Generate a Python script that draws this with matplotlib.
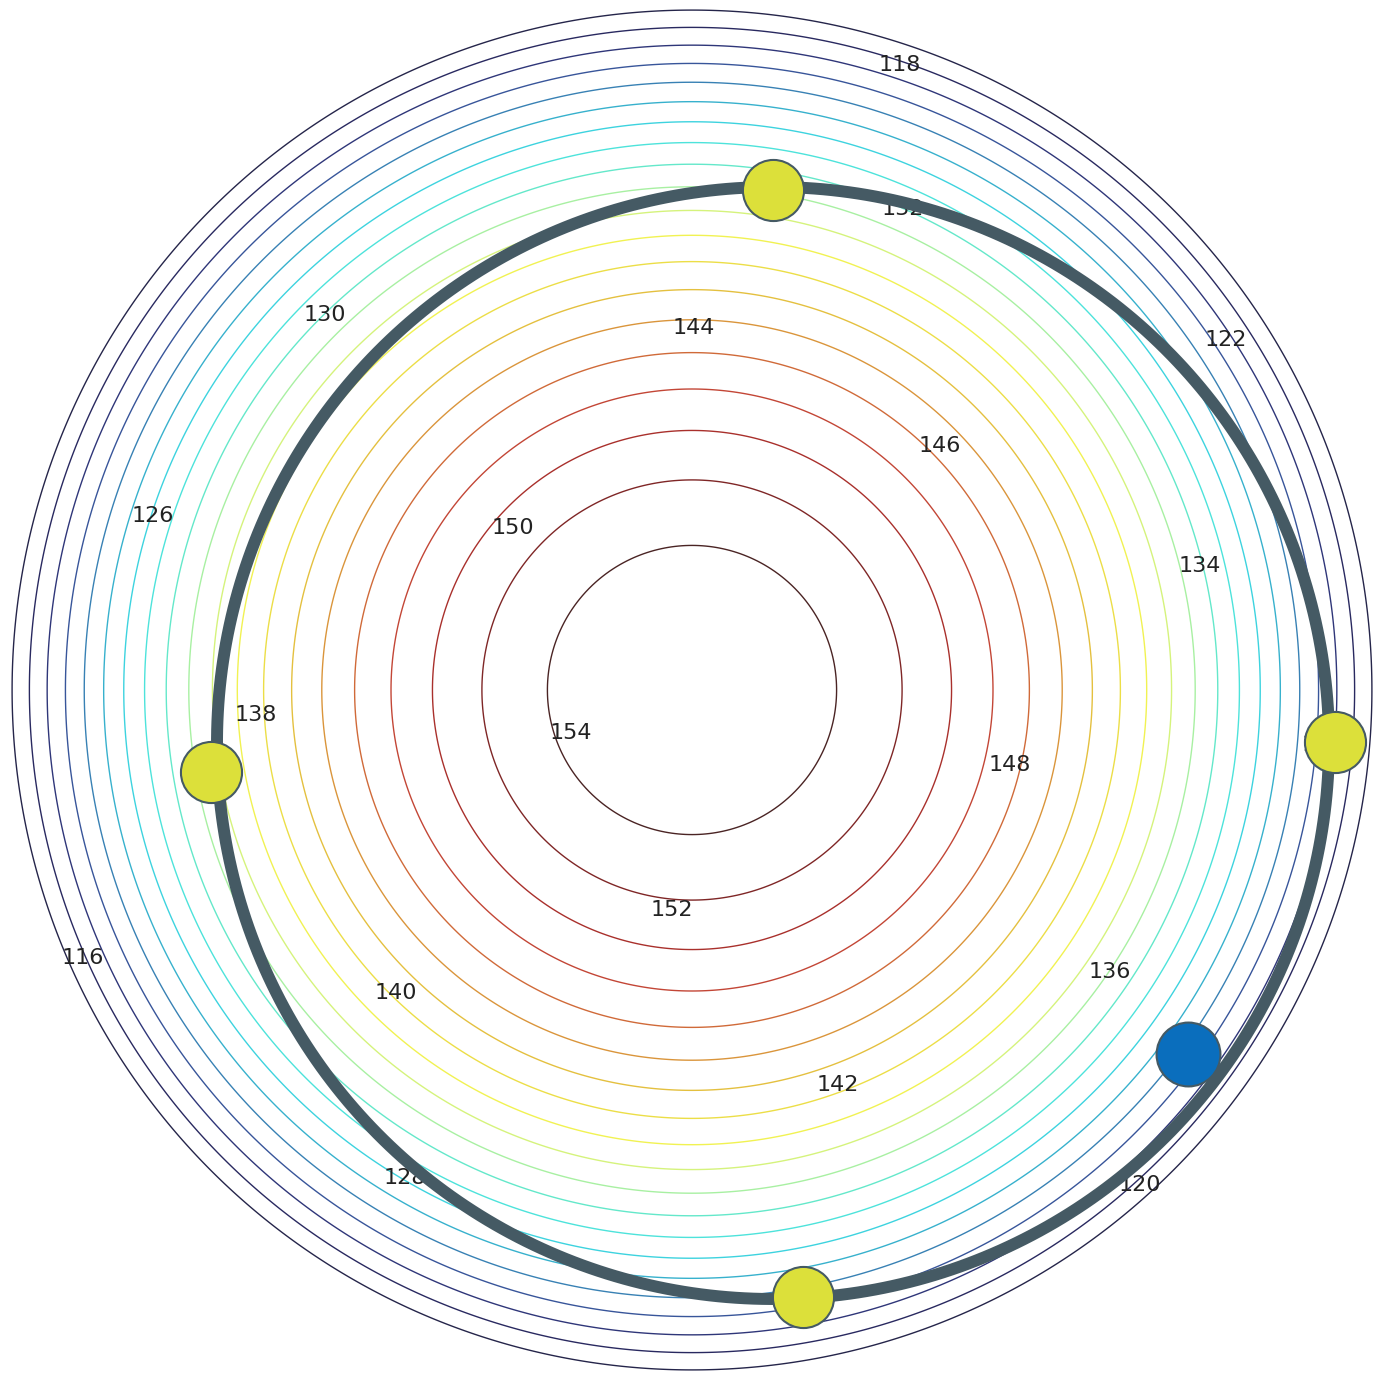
import numpy as np
import matplotlib
matplotlib.use('Agg')
import matplotlib.pyplot as plt
from matplotlib.colors import LinearSegmentedColormap

# contour levels of the dome-shaped field
levels = list(range(116, 156, 2))

# dome: peak value, centre and curvature (value drop per squared unit)
peak = 155.8
cx, cy = 692, 690
curv = 11615.0

# label positions, one per level
lab_x = [83, 900, 1140, 1226, 1323, 153, 405, 325, 903, 1200,
         1110, 256, 396, 838, 694, 940, 1010, 513, 672, 571]
lab_y = [958, 65, 1185, 340, 745, 516, 1178, 315, 209, 566,
         972, 715, 993, 1085, 328, 446, 765, 528, 910, 733]

# orbit ring
ring_cx, ring_cy, ring_r = 773, 743, 556

# points on the ring and the extra point
pts_x = [773, 1335, 803, 211]
pts_y = [190, 742, 1297, 772]
blue_x = [1188]
blue_y = [1054]

cmap = LinearSegmentedColormap.from_list('rings', [
    '#25254a', '#2c2c6e', '#3a5aa0', '#35a8c8', '#3fe0e6', '#60e8cc',
    '#c8f490', '#f2f250', '#e8d040', '#d88a3a', '#c84a38', '#a02828',
    '#4a2424'])

x = np.linspace(0, 1374, 400)
y = np.linspace(0, 1373, 400)
X, Y = np.meshgrid(x, y)
Z = peak - ((X - cx)**2 + (Y - cy)**2) / curv

fig = plt.figure(figsize=(13.74, 13.73), dpi=100)
ax = fig.add_axes([0, 0, 1, 1])
ax.contour(X, Y, Z, levels=levels, cmap=cmap, linewidths=1.0, zorder=1)

for lv, tx, ty in zip(levels, lab_x, lab_y):
    ax.text(tx, ty, str(lv), fontsize=16, color='#222222',
            ha='center', va='center', zorder=2)

t = np.linspace(0, 2*np.pi, 400)
ax.plot(ring_cx + ring_r*np.cos(t), ring_cy + ring_r*np.sin(t),
        color='#455a64', lw=8.6, zorder=3)
ax.plot(pts_x, pts_y, 'o', ms=44, mfc='#dce03a', mec='#455a64',
        mew=1.5, ls='none', zorder=4)
ax.plot(blue_x, blue_y, 'o', ms=46, mfc='#0a6ebd', mec='#455a64',
        mew=1.5, ls='none', zorder=4)

ax.set_xlim(0, 1374)
ax.set_ylim(1373, 0)
ax.axis('off')

fig.savefig('out.png', dpi=100)
